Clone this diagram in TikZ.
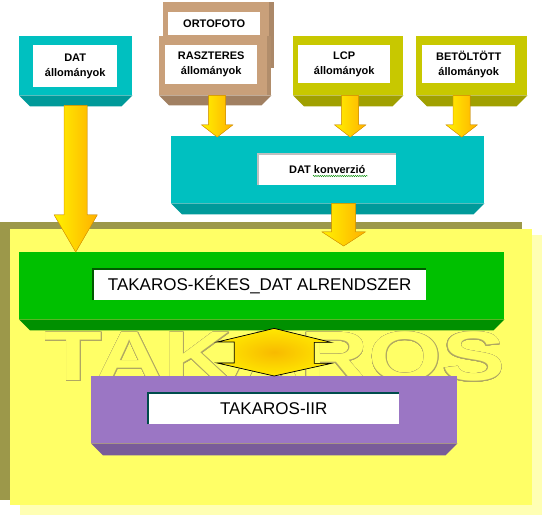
\documentclass[tikz,border=0pt]{standalone}
\usepackage{fontspec}
\setmainfont{Liberation Sans}
\usepackage[copies]{contour}
\contourlength{0.35pt}
\contournumber{24}
\usetikzlibrary{calc,decorations.pathmorphing}

\definecolor{tealbox}{HTML}{00C0C0}
\definecolor{tanbox}{HTML}{C9A07A}
\definecolor{lcpbox}{HTML}{C8C800}
\definecolor{greenbox}{HTML}{00C000}
\definecolor{purplebox}{HTML}{9B76C4}
\definecolor{bgyellow}{HTML}{FFFF66}
\definecolor{bgpale}{HTML}{FFFFB4}
\definecolor{bgolive}{HTML}{9C984A}
\definecolor{arrowlight}{HTML}{FFF200}
\definecolor{arrowdark}{HTML}{FFB000}
\definecolor{arrowedge}{HTML}{E8A000}
\definecolor{dblinner}{HTML}{F8BA00}
\definecolor{dblouter}{HTML}{FFE800}
\definecolor{outlinec}{HTML}{B0A862}

\tikzset{
 face/.style={fill=#1, draw=none, inner sep=0pt, anchor=north west},
 lbl/.style={fill=white, inner sep=0pt, anchor=north west, align=center, font=\fontsize{11}{15}\selectfont\bfseries},
 biglbl/.style={fill=white, inner sep=0pt, anchor=north west, font=\fontsize{17}{20}\selectfont},
 inset/.style={draw=#1, line width=2pt},
 arrowfill/.style={left color=arrowlight, right color=arrowdark, draw=arrowedge, line width=0.5pt},
 dblfill/.style={inner color=dblinner, outer color=dblouter, draw=black, line width=0.7pt},
}

% bevel under a box: node, depth, colour
\newcommand{\bevel}[3]{\fill[#3] (#1.south west) -- (#1.south east) -- ++(-#2,#2) -- ([shift={(#2,#2)}]#1.south west) -- cycle;}
% block arrow: start, tip, shaft half width, head half width, head length
\newcommand{\blkarrow}[5]{\filldraw[arrowfill] let \p1=#1, \p2=#2 in
 (\x1-#3,\y1) -- (\x1+#3,\y1) -- (\x1+#3,\y2+#5) -- (\x1+#4,\y2+#5) -- (\x1,\y2) -- (\x1-#4,\y2+#5) -- (\x1-#3,\y2+#5) -- cycle;}

\begin{document}
\begin{tikzpicture}[x=1pt,y=-1pt]
\useasboundingbox (0,0) rectangle (544,518);
\fill[white] (0,0) rectangle (544,518);

% background
\fill[bgolive] (0,222) rectangle (522,500);
\fill[bgpale] (20,235) rectangle (542,515);
\fill[bgyellow] (10,229) rectangle (532,505);
\node[anchor=base, inner sep=0pt, text=bgyellow] (watermark) at (275,381)
 {\scalebox{1.35}[1]{\fontsize{70}{70}\selectfont\bfseries\contour{outlinec}{TAKAROS}}};

% input boxes
\foreach \nm/\bx/\bw/\lx/\lw/\lh/\col/\txt in {dat/19/113/33/84/42/tealbox/DAT, lcp/293/110/298/92/38/lcpbox/LCP, bet/416/111/422/93/38/lcpbox/BETÖLTÖTT}{
 \node[face=\col, minimum width=\bw pt, minimum height=59pt] (\nm) at (\bx,36) {};
 \bevel{\nm}{11}{\col!80!black}
 \node[lbl, minimum width=\lw pt, minimum height=\lh pt] (\nm lbl) at (\lx,45) {\txt\\állományok};
}

\node[face=tanbox, minimum width=111pt, minimum height=66pt] (orto) at (163,2) {};
\fill[tanbox!85!black] (orto.north east) rectangle ++(-5,66);
\node[lbl, minimum width=92pt, minimum height=23pt] (ortolbl) at (168,12) {ORTOFOTO};
\node[face=tanbox, minimum width=112pt, minimum height=59pt] (rasz) at (159,36) {};
\fill[tanbox!88!black] (rasz.north east) rectangle ++(-4,59);
\bevel{rasz}{10}{tanbox!80!black}
\node[lbl, minimum width=92pt, minimum height=39pt] (raszlbl) at (165,45) {RASZTERES\\állományok};

% conversion
\node[face=tealbox, minimum width=313pt, minimum height=67pt] (konv) at (171,136) {};
\bevel{konv}{11}{tealbox!80!black}
\node[lbl, minimum width=138pt, minimum height=31pt] (konvlbl) at (258,154) {DAT konverzió};
\draw[inset=gray!50, line width=1.5pt] (konvlbl.south west) -- (konvlbl.north west) -- (konvlbl.north east);
\draw[green!55!black, line width=0.4pt, decorate, decoration={snake, amplitude=0.7pt, segment length=2.2pt}] (313,176) -- (368,176);

% systems
\node[face=greenbox, minimum width=485pt, minimum height=67pt] (green) at (19,252) {};
\bevel{green}{11}{greenbox!75!black}
\node[biglbl, minimum width=333pt, minimum height=31pt] (greenlbl) at (93,269) {TAKAROS-KÉKES\_DAT ALRENDSZER};
\draw[inset=green!35!black] (greenlbl.south west) -- (greenlbl.north west) -- (greenlbl.north east);

\node[face=purplebox, minimum width=366pt, minimum height=67pt] (iir) at (91,376) {};
\bevel{iir}{12}{purplebox!78!black}
\node[biglbl, minimum width=251pt, minimum height=31pt] (iirlbl) at (148,393) {TAKAROS-IIR};
\draw[inset=teal!60!black] (iirlbl.south west) -- (iirlbl.north west) -- (iirlbl.north east);

% arrows
\foreach \nm/\dx in {rasz/2, lcp/2, bet/-10}{
 \blkarrow{([xshift=\dx pt]\nm.south)}{([yshift=-1pt]konv.north)}{8.5pt}{15.5pt}{12pt}
}
\blkarrow{([yshift=-10pt]dat.south)}{(green.north)}{11.5pt}{21.5pt}{37pt}
\blkarrow{([xshift=16pt]konv.south)}{([yshift=6pt]green.north)}{12pt}{21.5pt}{14pt}

\filldraw[dblfill] let \p1=([yshift=-9pt]green.south -| iir.north), \p2=(iir.north) in
 (\x1,\y1) -- ++(57,14) -- ++(-17,0) -- ++(0,21) -- ++(17,0) -- (\x2,\y2)
 -- ++(-57,-13) -- ++(17,0) -- ++(0,-21) -- ++(-17,0) -- cycle;
\end{tikzpicture}
\end{document}
